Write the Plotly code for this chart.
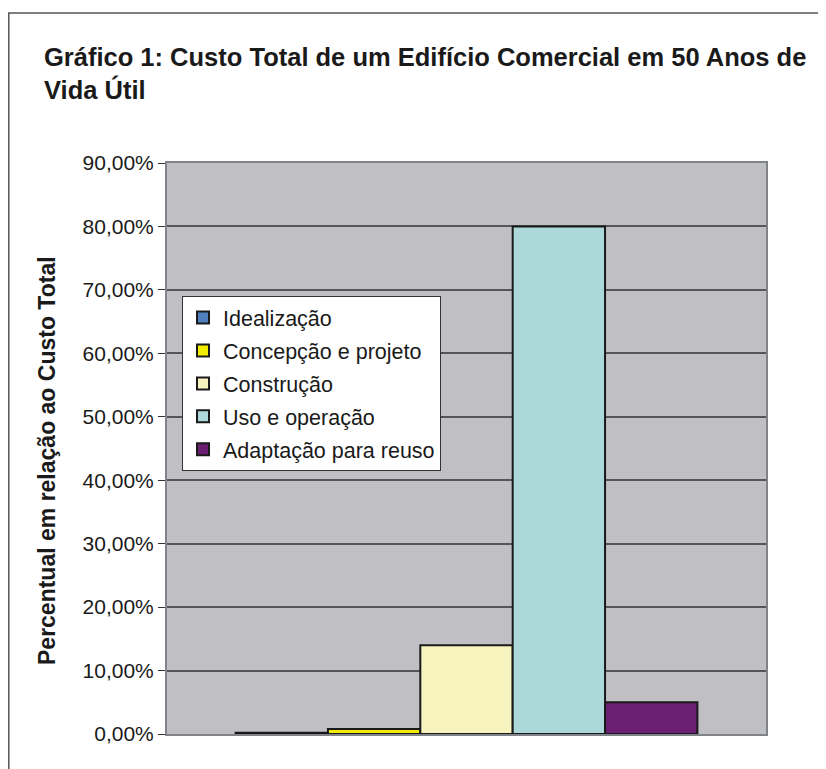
import plotly.graph_objects as go

# ---- data ----
categories = ["Idealização", "Concepção e projeto", "Construção", "Uso e operação", "Adaptação para reuso"]
values = [0.002, 0.008, 0.14, 0.80, 0.05]
colors = ["#4F7FBF", "#F2EC00", "#F7F4C0", "#ADD8DA", "#6B1F73"]
y_ticks = [0, 0.1, 0.2, 0.3, 0.4, 0.5, 0.6, 0.7, 0.8, 0.9]

OFF = 8  # page body margin
W, H = 826 - OFF, 769 - OFF
# plot area in page pixels
PL, PR, PT, PB = 167, 766, 163, 734

def px(x):
    return (x - PL) / (PR - PL)

def py(y):
    return (PB - y) / (PB - PT)

FONT = "Liberation Sans, Arial, sans-serif"

fig = go.Figure()
for name, v, c in zip(categories, values, colors):
    fig.add_trace(go.Bar(
        x=["Custo"], y=[v], name=name, legendgroup=name,
        marker=dict(color=c, line=dict(color="#1a1a1a", width=2)),
    ))

fig.update_layout(
    width=W, height=H,
    margin=dict(l=PL - OFF, r=826 - PR, t=PT - OFF, b=769 - PB),
    paper_bgcolor="white",
    plot_bgcolor="#C0C0C4",
    barmode="group",
    bargap=0.229,
    bargroupgap=0,
    separators=",.",
    font=dict(family=FONT, color="#1a1a1a"),
    legend=dict(
        x=px(182), y=py(296), xanchor="left", yanchor="top",
        bgcolor="white", bordercolor="#333333", borderwidth=1,
        font=dict(size=21.5, family=FONT, color="#1a1a1a"),
        traceorder="grouped", tracegroupgap=2,
    ),
    showlegend=True,
)

fig.update_yaxes(
    range=[0, 0.9], tickvals=y_ticks, tickformat=".2%",
    tickfont=dict(size=21, family=FONT, color="#1a1a1a"),
    ticks="outside", ticklen=7, tickcolor="#333333",
    showgrid=True, gridcolor="#555555", gridwidth=1.5,
    zeroline=False,
    showline=True, linecolor="#808488", linewidth=2, mirror=True,
)
fig.update_xaxes(
    showticklabels=False,
    showline=True, linecolor="#808488", linewidth=2, mirror=True,
    showgrid=False,
)

# chart title
fig.add_annotation(
    text="<b>Gráfico 1: Custo Total de um Edifício Comercial em 50 Anos de<br>Vida Útil</b>",
    xref="paper", yref="paper", x=px(42), y=py(41),
    xanchor="left", yanchor="top", align="left", showarrow=False,
    font=dict(size=25.5, family=FONT, color="#1a1a1a"),
)

# y-axis title
fig.add_annotation(
    text="<b>Percentual em relação ao Custo Total</b>",
    xref="paper", yref="paper", x=px(47), y=py(461),
    xanchor="center", yanchor="middle",
    textangle=-90, showarrow=False,
    font=dict(size=23, family=FONT, color="#1a1a1a"),
)

# outer frame (left and top edges visible)
fig.add_shape(
    type="path", xref="paper", yref="paper",
    path=f"M {px(8.8)} {py(800)} L {px(8.8)} {py(13)} L {px(840)} {py(13)}",
    line=dict(color="#555555", width=1.5),
)

fig.write_html("out.html")
